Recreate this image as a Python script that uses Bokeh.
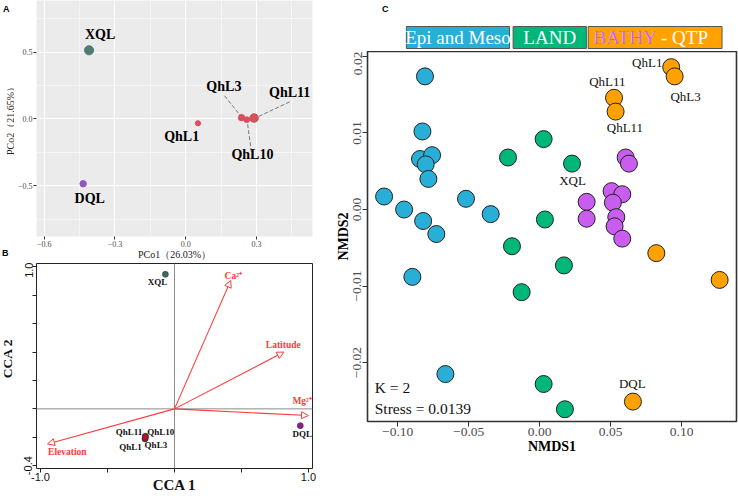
import math
from bokeh.plotting import figure
from bokeh.layouts import row, column
from bokeh.models import Range1d, FixedTicker, Arrow, NormalHead, Span, ColumnDataSource
from bokeh.core.properties import value
from bokeh.embed import file_html
from bokeh.resources import INLINE

SERIF = "Liberation Serif"
SANS = "Liberation Sans"

# ---------------- Panel A: PCoA ----------------
a_sites = ["XQL", "DQL", "QhL1", "QhL3", "QhL10", "QhL11"]
a_group = ["XQL", "DQL", "QhL", "QhL", "QhL", "QhL"]
a_pco1 = [-0.410, -0.435, 0.052, 0.237, 0.259, 0.290]
a_pco2 = [0.513, -0.484, -0.032, 0.010, -0.005, 0.007]
a_weight = [3.0, 1.4, 0.7, 1.4, 1.0, 2.7]
a_label_x = [-0.363, -0.407, -0.017, 0.162, 0.283, 0.441]
a_label_y = [0.630, -0.593, -0.131, 0.242, -0.267, 0.198]
a_lead_x0 = [0.165, 0.279, 0.441]
a_lead_y0 = [0.173, -0.247, 0.128]
a_lead_x1 = [0.232, 0.262, 0.311]
a_lead_y1 = [0.025, -0.030, 0.020]
a_ticks_x = [-0.6, -0.3, 0.0, 0.3]
a_minor_x = [-0.45, -0.15, 0.15, 0.45]
a_ticks_y = [-0.5, 0.0, 0.5]
a_minor_y = [-0.75, -0.25, 0.25, 0.75]
a_xlabel = "PCo1（26.03%）"
a_ylabel = "PCo2（21.65%）"

# ---------------- Panel B: CCA ----------------
b_sites = ["XQL", "DQL", "QhL1", "QhL3", "QhL10", "QhL11"]
b_group = ["XQL", "DQL", "QhL", "QhL", "QhL", "QhL"]
b_cca1 = [-0.068, 0.939, -0.220, -0.218, -0.217, -0.219]
b_cca2 = [0.948, -0.118, -0.212, -0.206, -0.192, -0.197]
b_label_x = [-0.127, 0.953, -0.328, -0.139, -0.103, -0.340]
b_label_y = [0.894, -0.176, -0.266, -0.252, -0.165, -0.165]
b_env = ["Ca²⁺", "Latitude", "Mg²⁺", "Elevation"]
b_env_x = [0.420, 0.817, 1.000, -0.948]
b_env_y = [0.905, 0.400, -0.047, -0.247]
b_env_label_x = [0.439, 0.812, 0.953, -0.800]
b_env_label_y = [0.934, 0.448, 0.054, -0.306]
b_ticks_x = [-1.0, -0.5, 0.0, 0.5, 1.0]
b_ticks_y = [-0.4, -0.2, 0.0, 0.2, 0.4, 0.6, 0.8, 1.0]
b_tick_labels_x = {-1.0: "-1.0", -0.5: "", 0.0: "", 0.5: "", 1.0: "1.0"}
b_tick_labels_y = {-0.4: "-0.4", -0.2: "", 0.0: "", 0.2: "", 0.4: "", 0.6: "", 0.8: "", 1.0: "1.0"}
b_xlabel = "CCA 1"
b_ylabel = "CCA 2"

# ---------------- Panel C: NMDS ----------------
c_epi_x = [-0.0808, -0.0826, -0.0843, -0.0758, -0.0803, -0.0784, -0.1096,
           -0.0955, -0.0821, -0.0728, -0.0519, -0.0345, -0.0897, -0.0664]
c_epi_y = [0.0174, 0.0102, 0.0066, 0.0071, 0.0059, 0.0040, 0.0017,
           0.0000, -0.0015, -0.0032, 0.0014, -0.0006, -0.0088, -0.0215]
c_land_x = [0.0028, -0.0223, 0.0228, 0.0037, -0.0195, 0.0171, -0.0127, 0.0028, 0.0178]
c_land_y = [0.0092, 0.0068, 0.0060, -0.0013, -0.0048, -0.0073, -0.0108, -0.0228, -0.0261]
c_bathy_x = [0.0606, 0.0629, 0.0331, 0.0331, 0.0507, 0.0582, 0.0516, 0.0540, 0.0528, 0.0582]
c_bathy_y = [0.0068, 0.0060, 0.0010, -0.0012, 0.0024, 0.0020, 0.0009, -0.0010, -0.0022, -0.0038]
c_qtp_x = [0.0927, 0.0951, 0.0524, 0.0535, 0.0822, 0.1268, 0.0657]
c_qtp_y = [0.0186, 0.0174, 0.0146, 0.0128, -0.0057, -0.0092, -0.0251]
c_labels = ["QhL1", "QhL3", "QhL11", "QhL11", "XQL", "DQL"]
c_label_x = [0.0758, 0.1028, 0.0477, 0.0601, 0.0232, 0.0653]
c_label_y = [0.01925, 0.0148, 0.0167, 0.0107, 0.0038, -0.0227]
c_ticks_x = [-0.10, -0.05, 0.0, 0.05, 0.10]
c_ticks_y = [-0.02, -0.01, 0.0, 0.01, 0.02]
c_stats = ["K = 2", "Stress = 0.0139"]
c_legend = ["Epi and Meso", "LAND", "BATHY - QTP"]

BLUE, GREEN, PURPLE, ORANGE = "#29AFD7", "#00B77A", "#C95DEF", "#FFA200"
A_COL = {"XQL": "#4E7C75", "DQL": "#9255C2", "QhL": "#D7505C"}
B_COL = {"XQL": "#3E6A64", "DQL": "#8E1C8E", "QhL": "#B3122E"}
RED = "#FF3A3A"

COMMON = dict(output_backend="svg", toolbar_location=None)


def minus(v, fmt):
    return (fmt % v).replace("-", "−")


def bare(p):
    p.grid.visible = False
    return p


# ======== left strip: panel letters and y-axis titles ========
strip = bare(figure(width=14, height=496, x_range=Range1d(0, 14), y_range=Range1d(0, 496),
                    min_border=0, x_axis_location=None, y_axis_location=None,
                    outline_line_color=None, **COMMON))
strip.text(x=[2.5, 1.5], y=[493, 249], text=["A", "B"], text_font=value(SANS), text_font_style="bold",
           text_font_size="9px", text_align="left", text_baseline="top", text_color="black")
strip.text(x=[9.5], y=[378], text=[a_ylabel], angle=math.pi / 2, text_font=value(SERIF),
           text_font_size="10px", text_align="center", text_baseline="middle", text_color="#222222")
strip.text(x=[7.2], y=[138], text=[b_ylabel], angle=math.pi / 2, text_font=value(SERIF),
           text_font_style="bold", text_font_size="13.5px", text_align="center",
           text_baseline="middle", text_color="#111111")

# ======== Panel A figure ========
pA = figure(width=316, height=262, x_range=Range1d(-0.633, 0.538), y_range=Range1d(-0.878, 0.885),
            min_border_left=18, min_border_right=18, min_border_top=0, min_border_bottom=24,
            background_fill_color="#EBEBEB", outline_line_color=None, **COMMON)
pA.xaxis.ticker = FixedTicker(ticks=a_ticks_x, minor_ticks=a_minor_x)
pA.yaxis.ticker = FixedTicker(ticks=a_ticks_y, minor_ticks=a_minor_y)
pA.xaxis.major_label_overrides = {t: minus(t, "%.1f") for t in a_ticks_x}
pA.yaxis.major_label_overrides = {t: minus(t, "%.1f") for t in a_ticks_y}
pA.xaxis.axis_label = a_xlabel
for ax in (pA.xaxis[0], pA.yaxis[0]):
    ax.axis_line_color = None
    ax.major_tick_line_color = "#333333"
    ax.major_tick_out = 3
    ax.major_tick_in = 0
    ax.minor_tick_line_color = None
    ax.major_label_text_font = SERIF
    ax.major_label_text_font_size = "8px"
    ax.major_label_text_color = "#4D4D4D"
    ax.major_label_standoff = 0
    ax.axis_label_text_font = SERIF
    ax.axis_label_text_font_style = "normal"
    ax.axis_label_text_font_size = "10px"
    ax.axis_label_text_color = "#222222"
    ax.axis_label_standoff = -1
for g in (pA.xgrid[0], pA.ygrid[0]):
    g.grid_line_color = "white"
    g.grid_line_width = 1.1
    g.minor_grid_line_color = "white"
    g.minor_grid_line_width = 0.5

pA.segment(x0=a_lead_x0, y0=a_lead_y0, x1=a_lead_x1, y1=a_lead_y1,
           line_color="#777777", line_width=1, line_dash="4 2")
pA.scatter(x=a_pco1, y=a_pco2, size=[4 + 1.7 * w for w in a_weight],
           fill_color=[A_COL[g] for g in a_group], line_color=[A_COL[g] for g in a_group])
pA.text(x=a_label_x, y=a_label_y, text=a_sites, text_font=value(SERIF), text_font_style="bold",
        text_font_size="14px", text_align="center", text_baseline="middle", text_color="black")

# ======== Panel B figure ========
pB = figure(width=316, height=234, x_range=Range1d(-1.03, 1.03), y_range=Range1d(-0.42, 1.024),
            min_border_left=13, min_border_right=13, min_border_top=1, min_border_bottom=28,
            outline_line_color="#222222", outline_line_width=1, **COMMON)
pB.grid.visible = False
pB.xaxis.ticker = FixedTicker(ticks=b_ticks_x)
pB.yaxis.ticker = FixedTicker(ticks=b_ticks_y)
pB.xaxis.major_label_overrides = b_tick_labels_x
pB.yaxis.major_label_overrides = b_tick_labels_y
pB.xaxis.axis_label = b_xlabel
pB.yaxis.major_label_orientation = "vertical"
for ax in (pB.xaxis[0], pB.yaxis[0]):
    ax.axis_line_color = None
    ax.major_tick_line_color = "#222222"
    ax.major_tick_out = 4
    ax.major_tick_in = 0
    ax.minor_tick_line_color = None
    ax.major_label_text_font = SANS
    ax.major_label_text_font_size = "11px"
    ax.major_label_text_color = "#111111"
    ax.major_label_standoff = 0
    ax.axis_label_text_font = SERIF
    ax.axis_label_text_font_style = "bold"
    ax.axis_label_text_font_size = "15px"
    ax.axis_label_text_color = "#111111"
pB.xaxis.axis_label_standoff = -7
pB.add_layout(Span(location=0, dimension="width", line_color="#8C8C8C", line_width=1))
pB.add_layout(Span(location=0, dimension="height", line_color="#8C8C8C", line_width=1))
env_src = ColumnDataSource(dict(x0=[0.0] * len(b_env), y0=[0.0] * len(b_env), x1=b_env_x, y1=b_env_y))
pB.add_layout(Arrow(end=NormalHead(size=7, fill_color="white", line_color=RED, line_width=1),
                    source=env_src, x_start="x0", y_start="y0", x_end="x1", y_end="y1",
                    line_color=RED, line_width=1.1))
pB.text(x=b_env_label_x, y=b_env_label_y, text=b_env, text_font=value(SERIF), text_font_style="bold",
        text_font_size="9.5px", text_align="center", text_baseline="middle", text_color=RED)
pB.scatter(x=b_cca1, y=b_cca2, size=6, fill_color=[B_COL[g] for g in b_group],
           line_color="#333333", line_width=0.6)
pB.text(x=b_label_x, y=b_label_y, text=b_sites, text_font=value(SERIF), text_font_style="bold",
        text_font_size="9px", text_align="center", text_baseline="middle", text_color="#111111")

# ======== Panel C legend strip ========
leg = bare(figure(width=408, height=51, x_range=Range1d(0, 408), y_range=Range1d(0, 51),
                  min_border=0, x_axis_location=None, y_axis_location=None,
                  outline_line_color=None, **COMMON))
leg.quad(left=[43, 161, 244], right=[157, 242, 392], bottom=3, top=25,
         fill_color=[BLUE, GREEN, ORANGE], line_color="#555555", line_width=1)
leg.text(x=[100, 201.5], y=[14, 14], text=c_legend[:2], text_font=value(SERIF),
         text_font_size="19px", text_align="center", text_baseline="middle", text_color="white")
leg.text(x=[250], y=[14], text=[c_legend[2]], text_font=value(SERIF),
         text_font_size="19px", text_align="left", text_baseline="middle", text_color="white")
leg.text(x=[250], y=[14], text=[c_legend[2].split(" - ")[0]], text_font=value(SERIF),
         text_font_size="19px", text_align="left", text_baseline="middle", text_color=PURPLE)
leg.text(x=[16], y=[48], text=["C"], text_font=value(SANS), text_font_style="bold",
         text_font_size="9px", text_align="left", text_baseline="top", text_color="black")

# ======== Panel C main ========
pC = figure(width=408, height=445, x_range=Range1d(-0.1213, 0.1387), y_range=Range1d(-0.0277, 0.02065),
            min_border_left=37, min_border_right=2, min_border_top=0, min_border_bottom=75,
            outline_line_color="#333333", outline_line_width=1.6, **COMMON)
pC.grid.visible = False
pC.xaxis.ticker = FixedTicker(ticks=c_ticks_x)
pC.yaxis.ticker = FixedTicker(ticks=c_ticks_y)
pC.xaxis.major_label_overrides = {t: minus(t, "%.2f") for t in c_ticks_x}
pC.yaxis.major_label_overrides = {t: minus(t, "%.2f") for t in c_ticks_y}
pC.yaxis.major_label_orientation = "vertical"
pC.xaxis.axis_label = "NMDS1"
pC.yaxis.axis_label = "NMDS2"
for ax in (pC.xaxis[0], pC.yaxis[0]):
    ax.axis_line_color = None
    ax.major_tick_line_color = "#333333"
    ax.major_tick_out = 5
    ax.major_tick_in = 0
    ax.minor_tick_line_color = None
    ax.major_label_text_font = SERIF
    ax.major_label_text_font_size = "13.5px"
    ax.major_label_text_color = "#4D4D4D"
    ax.major_label_standoff = 1
    ax.axis_label_text_font = SERIF
    ax.axis_label_text_font_style = "bold"
    ax.axis_label_text_font_size = "14px"
    ax.axis_label_text_color = "black"
    ax.axis_label_standoff = 0

for xs, ys, col in ((c_epi_x, c_epi_y, BLUE), (c_land_x, c_land_y, GREEN),
                    (c_bathy_x, c_bathy_y, PURPLE), (c_qtp_x, c_qtp_y, ORANGE)):
    pC.scatter(x=xs, y=ys, size=17, fill_color=col, line_color="#222222", line_width=1)
pC.text(x=c_label_x, y=c_label_y, text=c_labels, text_font=value(SERIF), text_font_size="13px",
        text_align="center", text_baseline="middle", text_color="#111111")
pC.text(x=[-0.1162, -0.1162], y=[-0.0232, -0.0260], text=c_stats, text_font=value(SERIF),
        text_font_size="15.5px", text_align="left", text_baseline="middle", text_color="#111111")

layout = row(strip, column(pA, pB), column(leg, pC))
open("out.html", "w").write(file_html(layout, INLINE))
